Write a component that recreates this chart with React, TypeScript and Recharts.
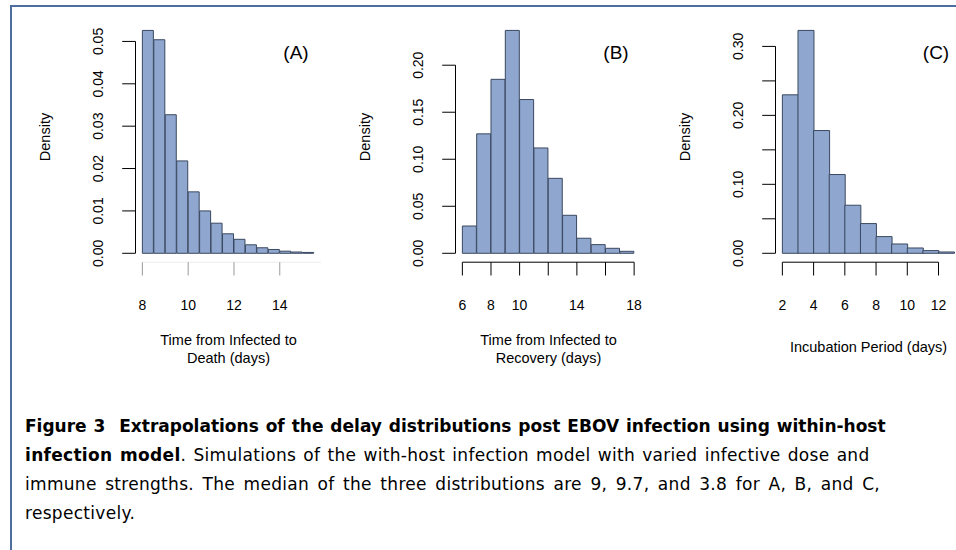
import { ComposedChart, Bar, XAxis, YAxis, ReferenceLine } from 'recharts';

// histogram bin edges and densities
const edgesA = [8, 8.5, 9, 9.5, 10, 10.5, 11, 11.5, 12, 12.5, 13, 13.5, 14, 14.5, 15, 15.5];
const densityA = [0.0526, 0.0504, 0.0327, 0.0218, 0.0145, 0.01, 0.0071, 0.0046, 0.0033, 0.002, 0.0013, 0.0009, 0.0005, 0.0003, 0.0002];
const xTicksA = [8, 10, 12, 14];
const xLabelsA = [8, 10, 12, 14];
const yTicksA = [0, 0.01, 0.02, 0.03, 0.04, 0.05];
const yLabelsA = [0, 0.01, 0.02, 0.03, 0.04, 0.05];

const edgesB = [6, 7, 8, 9, 10, 11, 12, 13, 14, 15, 16, 17, 18];
const densityB = [0.029, 0.127, 0.185, 0.237, 0.1635, 0.112, 0.0797, 0.0404, 0.016, 0.0092, 0.0053, 0.0021];
const xTicksB = [6, 8, 10, 12, 14, 16, 18];
const xLabelsB = [6, 8, 10, 14, 18];
const yTicksB = [0, 0.05, 0.1, 0.15, 0.2];
const yLabelsB = [0, 0.05, 0.1, 0.15, 0.2];

const edgesC = [2, 3, 4, 5, 6, 7, 8, 9, 10, 11, 12, 13];
const densityC = [0.2298, 0.3232, 0.178, 0.1142, 0.0697, 0.0431, 0.0242, 0.0135, 0.0077, 0.0039, 0.0019];
const xTicksC = [2, 4, 6, 8, 10, 12];
const xLabelsC = [2, 4, 6, 8, 10, 12];
const yTicksC = [0, 0.05, 0.1, 0.15, 0.2, 0.25, 0.3];
const yLabelsC = [0, 0.1, 0.2, 0.3];

const FILL = '#8fa7cf';
const EDGE = '#3a4860';
const FONT = '"Liberation Sans", Arial, sans-serif';
const CAPTION_FONT = '"DejaVu Sans", sans-serif';

type PanelProps = {
  left: number;
  edges: number[];
  density: number[];
  xTicks: number[];
  xLabels: number[];
  yTicks: number[];
  yLabels: number[];
  xTitle: string[];
  tag: string;
  faintX?: boolean;
};

const Panel = ({ left, edges, density, xTicks, xLabels, yTicks, yLabels, xTitle, tag, faintX }: PanelProps) => {
  const data = density.map((d, i) => ({ mid: (edges[i] + edges[i + 1]) / 2, density: d }));
  const x0 = edges[0];
  const x1 = edges[edges.length - 1];
  const yMax = Math.max(...density);
  const xDom = [x0 - 0.04 * (x1 - x0), x1 + 0.04 * (x1 - x0)];
  const yDom = [-0.04 * yMax, 1.04 * yMax];
  const tickCol = faintX ? '#9a9a9a' : '#000';

  return (
    <div style={{ position: 'absolute', left, top: 0, width: 330, height: 380 }}>
      <ComposedChart
        width={330}
        height={380}
        data={data}
        margin={{ top: 21.5, right: 9, bottom: 87.8, left: 95.5 }}
        barCategoryGap={0}
        barGap={0}
      >
        <XAxis
          dataKey="mid"
          type="number"
          domain={xDom}
          ticks={xTicks}
          interval={0}
          height={30}
          axisLine={false}
          tickSize={13.3}
          tickMargin={0}
          tickLine={{ stroke: tickCol, strokeWidth: 1 }}
          tick={(p: any) =>
            xLabels.includes(p.payload.value) ? (
              <text x={p.x} y={p.y + 34.5} textAnchor="middle" fontSize={14} fontFamily={FONT} fill="#000">
                {p.payload.value}
              </text>
            ) : (
              <g />
            )
          }
        />
        <YAxis
          type="number"
          domain={yDom}
          ticks={yTicks}
          interval={0}
          width={40}
          axisLine={false}
          tickSize={13.3}
          tickMargin={0}
          tickLine={{ stroke: '#000', strokeWidth: 1 }}
          tick={(p: any) => {
            const cx = p.x - 24.5;
            return yLabels.includes(p.payload.value) ? (
              <text
                x={cx}
                y={p.y}
                transform={`rotate(-90 ${cx} ${p.y})`}
                textAnchor="middle"
                dominantBaseline="central"
                fontSize={14}
                fontFamily={FONT}
                fill="#000"
              >
                {p.payload.value.toFixed(2)}
              </text>
            ) : (
              <g />
            )
          }}
        />
        <Bar dataKey="density" fill={FILL} stroke={EDGE} strokeWidth={1} isAnimationActive={false} />
        <ReferenceLine
          segment={[{ x: xDom[0], y: yTicks[0] }, { x: xDom[0], y: yTicks[yTicks.length - 1] }]}
          stroke="#000"
          strokeWidth={1}
          ifOverflow="visible"
        />
        <ReferenceLine
          segment={[{ x: xTicks[0], y: yDom[0] }, { x: faintX ? xDom[1] : xTicks[xTicks.length - 1], y: yDom[0] }]}
          stroke={faintX ? '#ececec' : '#000'}
          strokeWidth={1}
          ifOverflow="visible"
        />
      </ComposedChart>
      <div
        style={{
          position: 'absolute', left: 45, top: 137, fontFamily: FONT, fontSize: 14.5, lineHeight: 1,
          transform: 'translate(-50%, -50%) rotate(-90deg)', whiteSpace: 'nowrap',
        }}
      >
        Density
      </div>
      <div
        style={{
          position: 'absolute', left: 296, top: 52, fontFamily: FONT, fontSize: 19, lineHeight: 1,
          transform: 'translate(-50%, -50%)', whiteSpace: 'nowrap',
        }}
      >
        {tag}
      </div>
      <div
        style={{
          position: 'absolute', left: 228.5, top: xTitle.length > 1 ? 349 : 348, fontFamily: FONT, fontSize: 14.5,
          lineHeight: '17.5px', transform: 'translate(-50%, -50%)', whiteSpace: 'nowrap', textAlign: 'center',
        }}
      >
        {xTitle.map((t, i) => (
          <div key={i}>{t}</div>
        ))}
      </div>
    </div>
  );
};

export default function App() {
  return (
    <div style={{ position: 'absolute', left: 0, top: 0, width: 956, height: 550, overflow: 'hidden', background: '#fff' }}>
      <div
        style={{
          position: 'absolute', left: 10, top: 5, width: 960, height: 560,
          borderTop: '2px solid #4d6e9e', borderLeft: '2px solid #4d6e9e',
        }}
      />
      <Panel left={0} edges={edgesA} density={densityA} xTicks={xTicksA} xLabels={xLabelsA} yTicks={yTicksA} yLabels={yLabelsA}
        xTitle={['Time from Infected to', 'Death (days)']} tag="(A)" faintX />
      <Panel left={320} edges={edgesB} density={densityB} xTicks={xTicksB} xLabels={xLabelsB} yTicks={yTicksB} yLabels={yLabelsB}
        xTitle={['Time from Infected to', 'Recovery (days)']} tag="(B)" />
      <Panel left={640} edges={edgesC} density={densityC} xTicks={xTicksC} xLabels={xLabelsC} yTicks={yTicksC} yLabels={yLabelsC}
        xTitle={['Incubation Period (days)']} tag="(C)" />
      <div
        style={{
          position: 'absolute', left: 25, top: 411.5, fontFamily: CAPTION_FONT, fontSize: 17, lineHeight: '29px',
          whiteSpace: 'nowrap', color: '#000',
        }}
      >
        <span style={{ wordSpacing: 1 }}>
          <b>Figure 3&nbsp;&nbsp;Extrapolations of the delay distributions post EBOV infection using within-host</b>
        </span>
        <br />
        <span style={{ letterSpacing: 0.3, wordSpacing: 1.5 }}>
          <b>infection model</b>. Simulations of the with-host infection model with varied infective dose and
        </span>
        <br />
        <span style={{ letterSpacing: 0.3, wordSpacing: 2.8 }}>
          immune strengths. The median of the three distributions are 9, 9.7, and 3.8 for A, B, and C,
        </span>
        <br />
        <span style={{ letterSpacing: 0.3 }}>respectively.</span>
      </div>
    </div>
  );
}
